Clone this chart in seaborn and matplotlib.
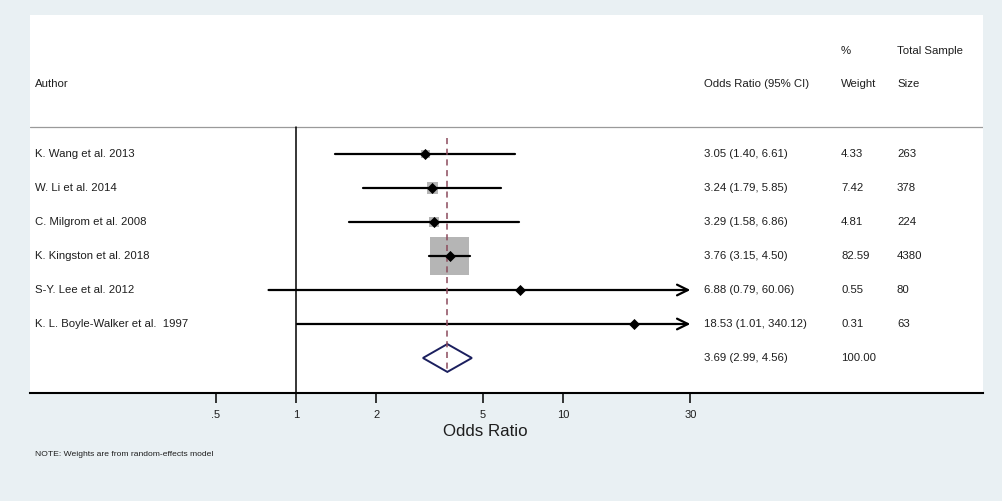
import numpy as np
import seaborn as sns
import matplotlib.pyplot as plt
from matplotlib.transforms import blended_transform_factory

# study data
authors = ['K. Wang et al. 2013', 'W. Li et al. 2014', 'C. Milgrom et al. 2008',
           'K. Kingston et al. 2018', 'S-Y. Lee et al. 2012',
           'K. L. Boyle-Walker et al.  1997']
odds = [3.05, 3.24, 3.29, 3.76, 6.88, 18.53]
ci_low = [1.40, 1.79, 1.58, 3.15, 0.79, 1.01]
ci_high = [6.61, 5.85, 6.86, 4.50, 60.06, 340.12]
weights = [4.33, 7.42, 4.81, 82.59, 0.55, 0.31]
sample_size = [263, 378, 224, 4380, 80, 63]

pooled_or = 3.69
pooled_low = 2.99
pooled_high = 4.56
pooled_weight = 100.00

tick_values = [0.5, 1, 2, 5, 10, 30]
tick_labels = ['.5', '1', '2', '5', '10', '30']

BG = '#e9f0f3'
TXT = '#1e1e1e'
FS = 8.2

sns.set_theme(style='white')
plt.rcParams['font.family'] = ['Liberation Sans', 'DejaVu Sans']

fig = plt.figure(figsize=(10.03, 5.01), dpi=100, facecolor=BG)
ax = fig.add_axes([30 / 1003, 1 - 393 / 501, 953 / 1003, 378 / 501])
ax.set_facecolor('white')

rows = np.arange(len(authors))
pooled_row = len(authors)
clip_hi = max(tick_values)

ax.set_xscale('log')
ax.set_xlim(0.101, 374)
ax.set_ylim(7.03, -4.09)

# null line and pooled estimate line
ax.plot([1, 1], [-0.794, 7.03], color='black', lw=1.1, zorder=2)
ax.plot([pooled_or, pooled_or], [-0.47, 6.44], color='#8c4a5c', lw=1.1,
        ls=(0, (4, 3)), zorder=4)

# weight boxes (area ~ weight)
box_s = [w * 9.1 for w in weights]
sns.scatterplot(x=odds, y=rows, marker='s', s=box_s, color='#b5b5b5',
                linewidth=0, legend=False, ax=ax, zorder=2)

# confidence intervals, arrow when past the axis range
for r, lo, hi in zip(rows, ci_low, ci_high):
    if hi > clip_hi:
        ax.annotate('', xy=(clip_hi, r), xytext=(lo, r),
                    arrowprops=dict(arrowstyle='->,head_length=0.65,head_width=0.32',
                                    color='black', lw=1.6,
                                    shrinkA=0, shrinkB=0), zorder=3)
    else:
        ax.plot([lo, hi], [r, r], color='black', lw=1.6, zorder=3)

sns.scatterplot(x=odds, y=rows, marker='D', s=32, color='black',
                linewidth=0, legend=False, ax=ax, zorder=5)

# pooled diamond
dx = [pooled_low, pooled_or, pooled_high, pooled_or, pooled_low]
dy = [pooled_row, pooled_row - 0.41, pooled_row, pooled_row + 0.41, pooled_row]
ax.fill(dx, dy, facecolor='none', edgecolor='#1b1f5e', lw=1.4, zorder=3)

# header separator
ax.axhline(-0.794, color='#9a9a9a', lw=0.9, zorder=1)

# text columns
tr = blended_transform_factory(ax.transAxes, ax.transData)
col_author = (35 - 30) / 953
col_or = (704 - 30) / 953
col_w = (841 - 30) / 953
col_n = (897 - 30) / 953

ax.text(col_author, -2.06, 'Author', transform=tr, fontsize=FS, color=TXT, va='center')
ax.text(col_or, -2.06, 'Odds Ratio (95% CI)', transform=tr, fontsize=FS, color=TXT, va='center')
ax.text(col_w, -3.03, '%', transform=tr, fontsize=FS, color=TXT, va='center')
ax.text(col_w, -2.06, 'Weight', transform=tr, fontsize=FS, color=TXT, va='center')
ax.text(col_n, -3.03, 'Total Sample', transform=tr, fontsize=FS, color=TXT, va='center')
ax.text(col_n, -2.06, 'Size', transform=tr, fontsize=FS, color=TXT, va='center')

for r in rows:
    ax.text(col_author, r, authors[r], transform=tr, fontsize=FS, color=TXT, va='center')
    ax.text(col_or, r, f'{odds[r]:.2f} ({ci_low[r]:.2f}, {ci_high[r]:.2f})',
            transform=tr, fontsize=FS, color=TXT, va='center')
    ax.text(col_w, r, f'{weights[r]:.2f}', transform=tr, fontsize=FS, color=TXT, va='center')
    ax.text(col_n, r, f'{sample_size[r]}', transform=tr, fontsize=FS, color=TXT, va='center')

ax.text(col_or, pooled_row, f'{pooled_or:.2f} ({pooled_low:.2f}, {pooled_high:.2f})',
        transform=tr, fontsize=FS, color=TXT, va='center')
ax.text(col_w, pooled_row, f'{pooled_weight:.2f}', transform=tr, fontsize=FS,
        color=TXT, va='center')

# axes styling
for side in ['top', 'left', 'right']:
    ax.spines[side].set_visible(False)
ax.spines['bottom'].set_color('black')
ax.spines['bottom'].set_linewidth(1.5)
ax.set_yticks([])
ax.set_xticks(tick_values)
ax.set_xticklabels(tick_labels)
ax.xaxis.set_minor_locator(plt.NullLocator())
ax.tick_params(axis='x', direction='out', length=7.2, width=1.1, pad=5,
               labelsize=8, labelcolor=TXT, color='black', bottom=True)
ax.set_xlabel('Odds Ratio', fontsize=12.2, color=TXT)
ax.xaxis.label.set_va('center')
ax.xaxis.set_label_coords(0.4775, -0.103)

fig.text(35 / 1003, 1 - 454 / 501, 'NOTE: Weights are from random-effects model',
         fontsize=6.1, color=TXT, va='center')

fig.savefig('out.png', dpi=100, facecolor=BG)
